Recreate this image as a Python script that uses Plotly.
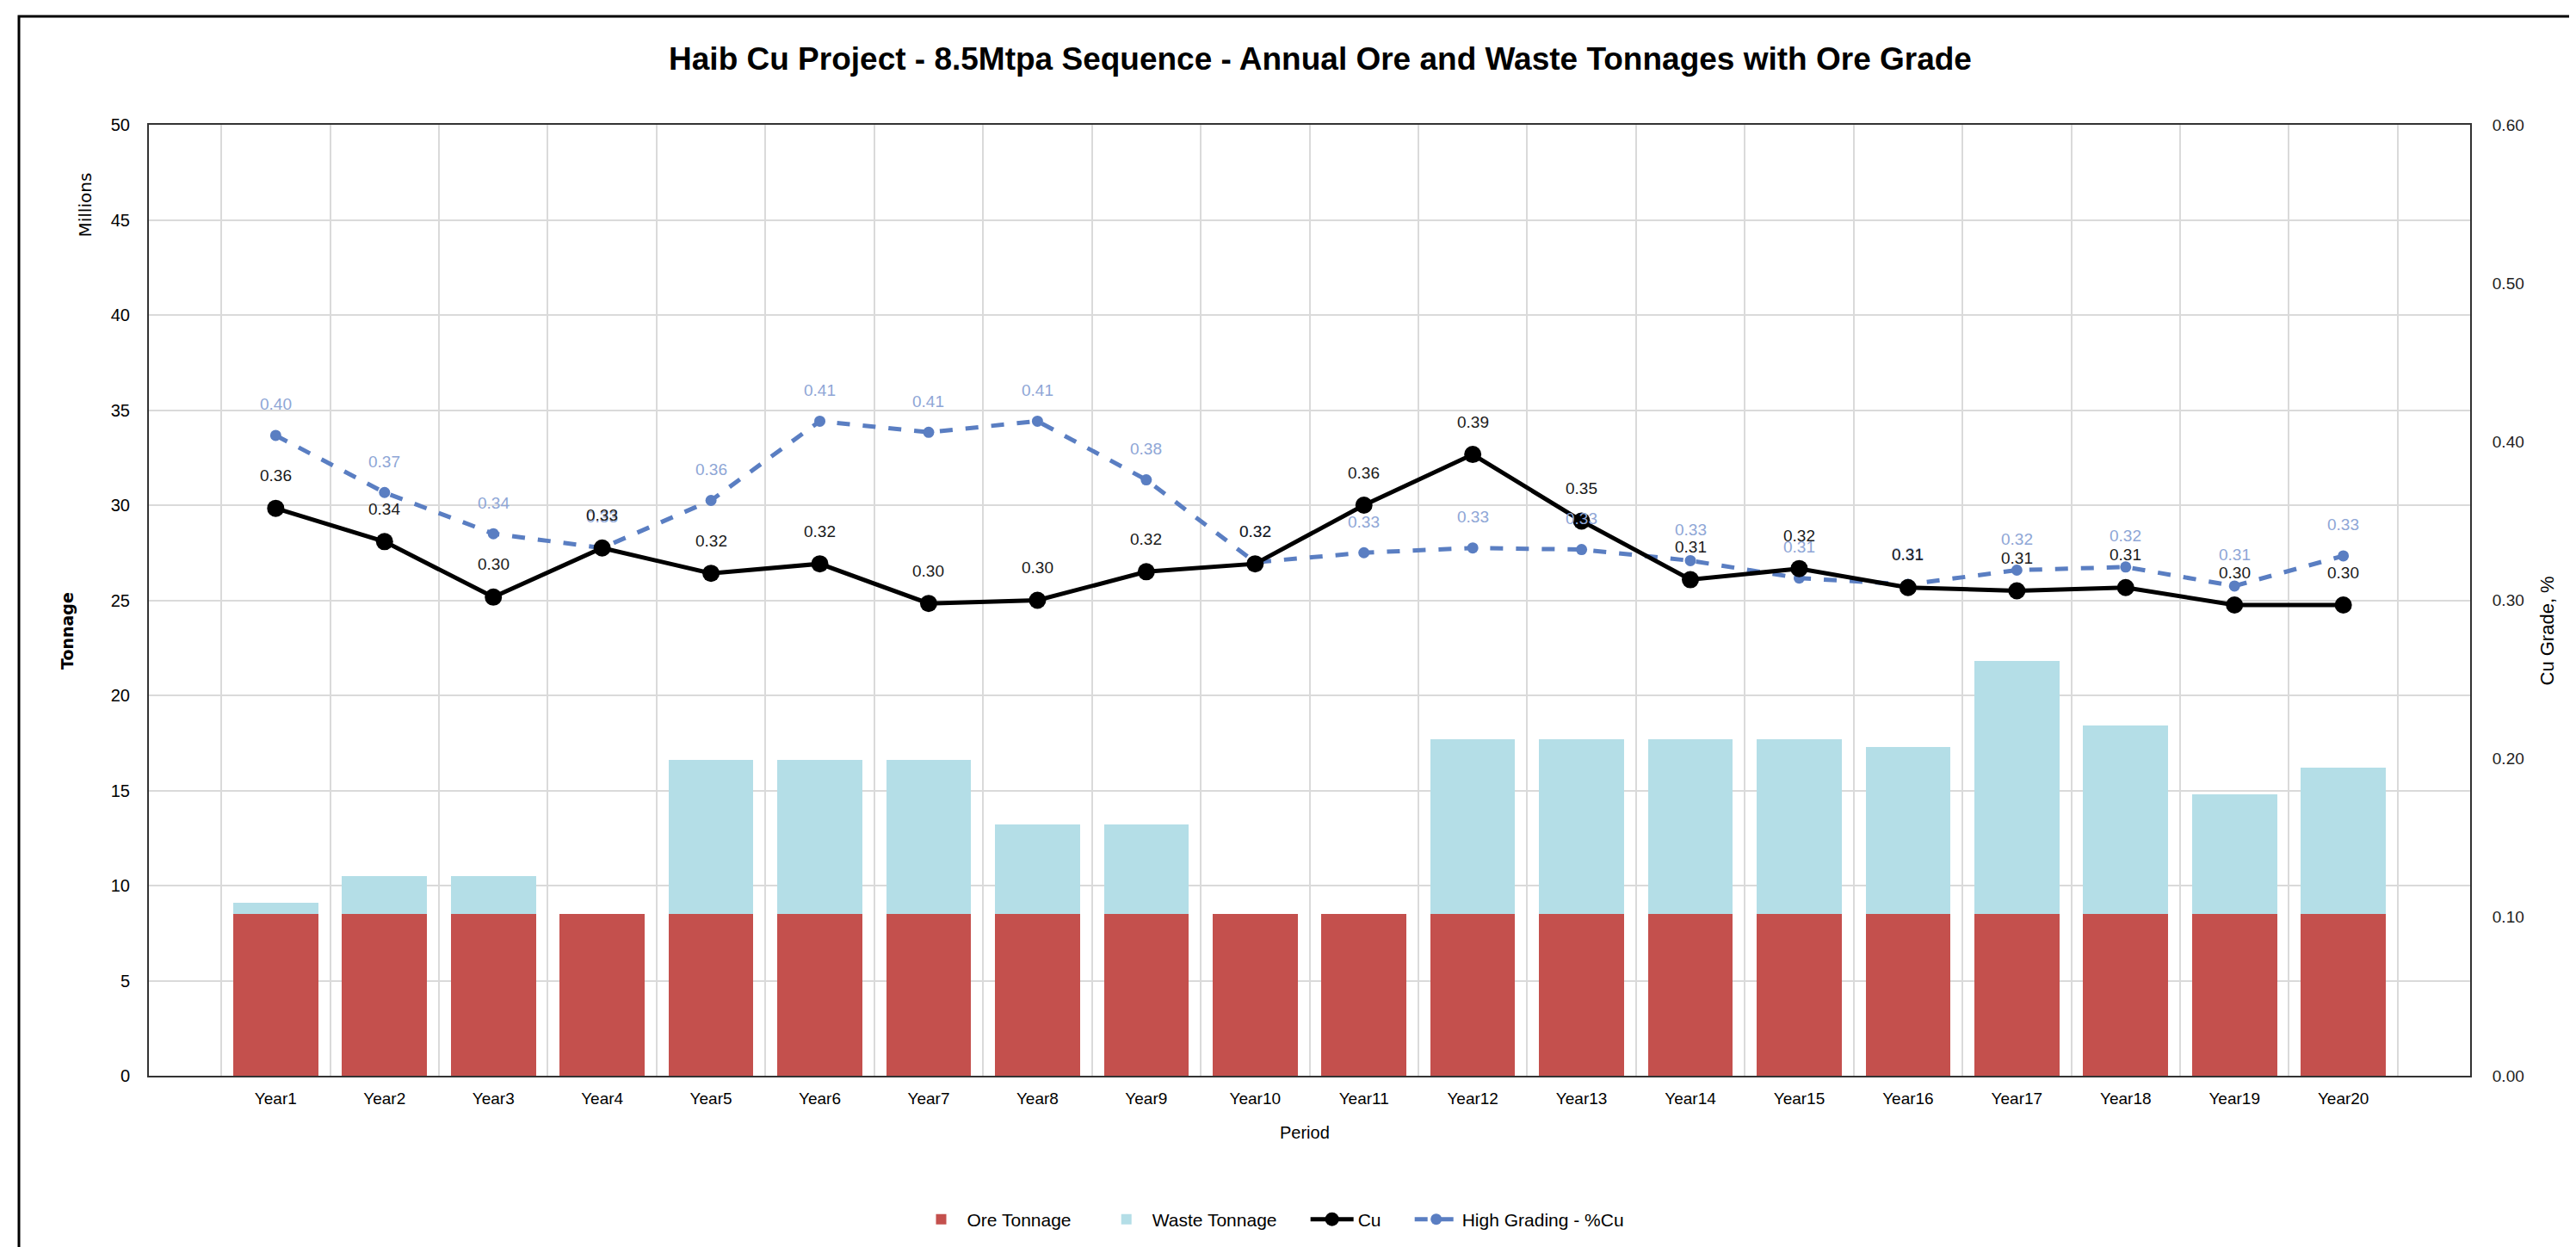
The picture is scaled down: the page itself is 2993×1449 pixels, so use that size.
import plotly.graph_objects as go

years = [f"Year{i}" for i in range(1, 21)]
ore_mt = [8.5] * 20
waste_mt = [0.6, 2.0, 2.0, 0.0, 8.1, 8.1, 8.1, 4.7, 4.7, 0.0,
            0.0, 9.2, 9.2, 9.2, 9.2, 8.8, 13.3, 9.9, 6.3, 7.7]
cu_grade = [0.358, 0.337, 0.302, 0.333, 0.317, 0.323, 0.298, 0.300, 0.318, 0.323,
            0.360, 0.392, 0.350, 0.313, 0.320, 0.308, 0.306, 0.308, 0.297, 0.297]
hg_grade = [0.404, 0.368, 0.342, 0.333, 0.363, 0.413, 0.406, 0.413, 0.376, 0.324,
            0.330, 0.333, 0.332, 0.325, 0.314, 0.310, 0.319, 0.321, 0.309, 0.328]

FONT = "Liberation Sans Narrow, Arial Narrow, Liberation Sans, sans-serif"
W, H = 2993, 1449
L, R, T, B = 165, 131, 137, 207
PW, PH = W - L - R, H - T - B

def px(x):
    return (x - L) / PW

def py(y):
    return (H - B - y) / PH

PAD = "&nbsp;" * 5

fig = go.Figure()
fig.add_trace(go.Bar(x=years, y=ore_mt, name="Ore Tonnage" + PAD,
                     marker=dict(color="#C4504D", line=dict(width=0))))
fig.add_trace(go.Bar(x=years, y=waste_mt, name="Waste Tonnage" + PAD,
                     marker=dict(color="#B4DEE7", line=dict(width=0))))
fig.add_trace(go.Scatter(x=years, y=hg_grade, name="High Grading - %Cu", yaxis="y2",
                         mode="lines+markers",
                         line=dict(color="#5A7EC2", width=5, dash="dash"),
                         marker=dict(size=13, color="#5A7EC2")))
fig.add_trace(go.Scatter(x=years, y=cu_grade, name="Cu" + PAD, yaxis="y2",
                         mode="lines+markers",
                         line=dict(color="#000000", width=5),
                         marker=dict(size=20, color="#000000")))

annotations = []
for yr, v in zip(years, hg_grade):
    annotations.append(dict(x=yr, y=v, xref="x", yref="y2", text=f"{v:.2f}",
                            showarrow=False, yshift=36,
                            font=dict(family=FONT, size=19, color="#8EA6D6")))
for yr, v in zip(years, cu_grade):
    annotations.append(dict(x=yr, y=v, xref="x", yref="y2", text=f"{v:.2f}",
                            showarrow=False, yshift=38,
                            font=dict(family=FONT, size=19, color="#1a1a1a")))

annotations += [
    dict(x=px(76), y=py(191), xref="paper", yref="paper", text="Millions", textangle=-90,
         showarrow=False, font=dict(family="DejaVu Sans, sans-serif", size=20, color="#000")),
    dict(x=px(57), y=py(725), xref="paper", yref="paper", text="<b>Tonnage</b>", textangle=-90,
         showarrow=False, font=dict(family="DejaVu Sans, sans-serif", size=19, color="#000")),
    dict(x=px(2965), y=py(725), xref="paper", yref="paper", text="Cu Grade, %", textangle=-90,
         showarrow=False, font=dict(family=FONT, size=22, color="#000")),
    dict(x=px(1508), y=py(1321), xref="paper", yref="paper", text="Period",
         showarrow=False, font=dict(family=FONT, size=20, color="#000")),
]

fig.update_layout(
    width=W, height=H,
    margin=dict(l=L, r=R, t=T, b=B),
    paper_bgcolor="white", plot_bgcolor="white",
    barmode="stack", bargap=0.22,
    title=dict(text="<b>Haib Cu Project - 8.5Mtpa Sequence - Annual Ore and Waste Tonnages with Ore Grade</b>",
               x=px(1526), xref="paper", xanchor="center", y=1 - 60 / H, yanchor="middle",
               font=dict(family=FONT, size=37, color="#000")),
    xaxis=dict(type="category", tickson="boundaries", showgrid=True, gridcolor="#DADADA", gridwidth=1.5,
               ticks="", showline=True, linecolor="#333", linewidth=2, mirror=True,
               ticklabelstandoff=8,
               tickfont=dict(family=FONT, size=19, color="#000")),
    yaxis=dict(range=[0, 50], dtick=5, showgrid=True, gridcolor="#DADADA", gridwidth=1.5,
               showline=True, linecolor="#333", linewidth=2, zeroline=False, ticks="",
               ticklabelstandoff=16,
               tickfont=dict(family=FONT, size=20, color="#000")),
    yaxis2=dict(range=[0, 0.6], dtick=0.1, tickformat=".2f", overlaying="y", side="right",
                showgrid=False, zeroline=False, showline=True, linecolor="#333", linewidth=2,
                ticks="", ticklabelstandoff=20,
                tickfont=dict(family=FONT, size=19, color="#222")),
    legend=dict(orientation="h", x=px(1470), xanchor="center", y=py(1409), yanchor="middle",
                traceorder="normal", font=dict(family=FONT, size=21, color="#000"),
                itemwidth=50),
    annotations=annotations,
    shapes=[dict(type="rect", xref="paper", yref="paper",
                 x0=px(14), x1=px(2982), y0=py(1470), y1=py(11),
                 line=dict(color="#000", width=3), layer="above")],
    showlegend=True,
)

fig.data[0].legendrank = 1
fig.data[1].legendrank = 2
fig.data[3].legendrank = 3
fig.data[2].legendrank = 4

fig.write_html("out.html")
